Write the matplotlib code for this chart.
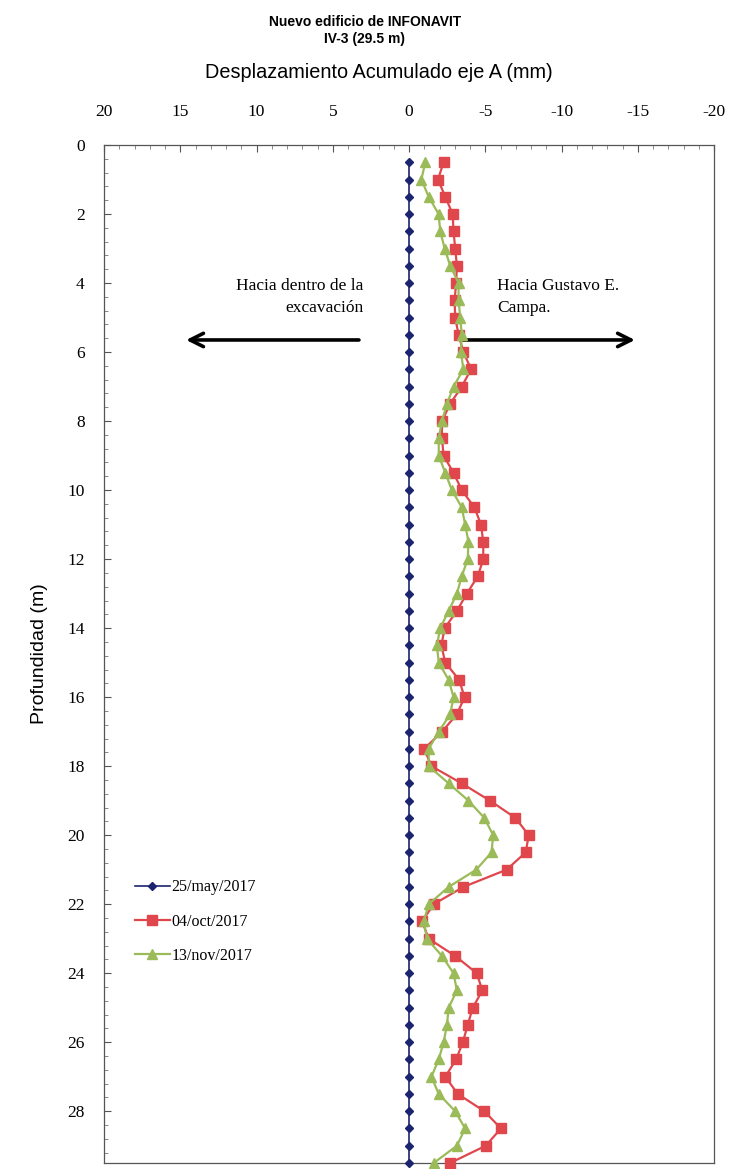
import matplotlib.pyplot as plt
import numpy as np
from matplotlib.ticker import MultipleLocator

plt.rcParams['axes.unicode_minus'] = False

# profundidades de lectura (m)
depth = np.arange(0.5, 29.51, 0.5)

# desplazamiento acumulado eje A (mm)
may_2017 = np.zeros(len(depth))
oct_2017 = [-2.27, -1.90, -2.38, -2.86, -2.92, -3.03, -3.14, -3.09, -2.99, -3.03,
            -3.25, -3.57, -4.07, -3.46, -2.70, -2.16, -2.16, -2.27, -2.92, -3.46,
            -4.29, -4.72, -4.87, -4.87, -4.51, -3.79, -3.14, -2.34, -2.12, -2.38,
            -3.29, -3.64, -3.14, -2.16, -1.00, -1.47, -3.46, -5.31, -6.98, -7.85,
            -7.65, -6.40, -3.57, -1.62, -0.86, -1.29, -3.03, -4.44, -4.81, -4.18,
            -3.85, -3.53, -3.09, -2.38, -3.20, -4.94, -6.03, -5.03, -2.70]
nov_2017 = [-1.07, -0.81, -1.29, -1.94, -2.05, -2.34, -2.70, -3.25, -3.25, -3.36,
            -3.46, -3.40, -3.57, -2.92, -2.49, -2.16, -1.95, -1.95, -2.38, -2.81,
            -3.46, -3.68, -3.90, -3.85, -3.46, -3.14, -2.60, -2.05, -1.83, -1.95,
            -2.60, -2.92, -2.70, -1.95, -1.29, -1.29, -2.60, -3.90, -4.94, -5.52,
            -5.41, -4.41, -2.60, -1.29, -0.97, -1.18, -2.16, -2.92, -3.14, -2.60,
            -2.49, -2.27, -1.95, -1.47, -1.95, -3.03, -3.68, -3.14, -1.62]
labels = ['25/may/2017', '04/oct/2017', '13/nov/2017']

serif = 'Liberation Serif'
narrow = ['Liberation Sans Narrow', 'Liberation Sans']

fig = plt.figure(figsize=(7.31, 11.69), dpi=100)
ax = fig.add_axes([104/731, 1-1163/1169, 610/731, (1163-145)/1169])

ax.plot(may_2017, depth, '-D', color='#1c2470', lw=1.2, ms=3.8, label=labels[0], clip_on=False, zorder=3)
ax.plot(oct_2017, depth, '-s', color='#e0474c', lw=1.6, ms=7, label=labels[1], clip_on=False, zorder=4)
ax.plot(nov_2017, depth, '-^', color='#9bbb59', lw=1.6, ms=7, label=labels[2], clip_on=False, zorder=5)

ax.set_xlim(20, -20)
ax.set_ylim(29.5, 0)
ax.xaxis.tick_top()
ax.xaxis.set_major_locator(MultipleLocator(5))
ax.xaxis.set_minor_locator(MultipleLocator(1))
ax.yaxis.set_major_locator(MultipleLocator(2))
ax.yaxis.set_minor_locator(MultipleLocator(0.4))
ax.tick_params(axis='x', which='both', direction='in', top=True, bottom=False, pad=18)
ax.tick_params(axis='y', which='both', direction='in', left=True, right=False, pad=14)
ax.tick_params(which='major', length=5, width=0.8, color='#555555')
ax.tick_params(which='minor', length=3, width=0.6, color='#777777')
for label in ax.get_xticklabels() + ax.get_yticklabels():
    label.set_fontname(serif)
    label.set_fontsize(12.5)
for s in ax.spines.values():
    s.set_color('#555555')
    s.set_linewidth(0.9)

ax.set_ylabel('Profundidad (m)', family=narrow, fontsize=14, labelpad=14)

fig.text(365/731, 1-15/1169, 'Nuevo edificio de INFONAVIT\nIV-3 (29.5 m)', family=narrow,
         fontweight='bold', fontsize=10, ha='center', va='top', linespacing=1.3)
fig.text(379/731, 1-72/1169, 'Desplazamiento Acumulado eje A (mm)', family=narrow,
         fontsize=14.3, ha='center', va='center')

# textos y flechas de direccion
ax.text(3.0, 4.4, 'Hacia dentro de la\nexcavación', family=serif, fontsize=12.5,
        ha='right', va='center', multialignment='right', linespacing=1.45)
ax.text(-5.8, 4.4, 'Hacia Gustavo E.\nCampa.', family=serif, fontsize=12.5,
        ha='left', va='center', multialignment='left', linespacing=1.45)
ax.annotate('', xy=(14.8, 5.65), xytext=(3.1, 5.65),
            arrowprops=dict(arrowstyle='->', color='black', lw=2.6, mutation_scale=24))
ax.annotate('', xy=(-15.0, 5.65), xytext=(-3.3, 5.65),
            arrowprops=dict(arrowstyle='->', color='black', lw=2.6, mutation_scale=24))

ax.legend(loc='upper left', bbox_to_anchor=(0.04, 0.285), frameon=False,
          prop={'family': serif, 'size': 11.5}, handlelength=2.2, handletextpad=0.1,
          labelspacing=1.15, borderaxespad=0)

fig.savefig('out.png', dpi=100)
